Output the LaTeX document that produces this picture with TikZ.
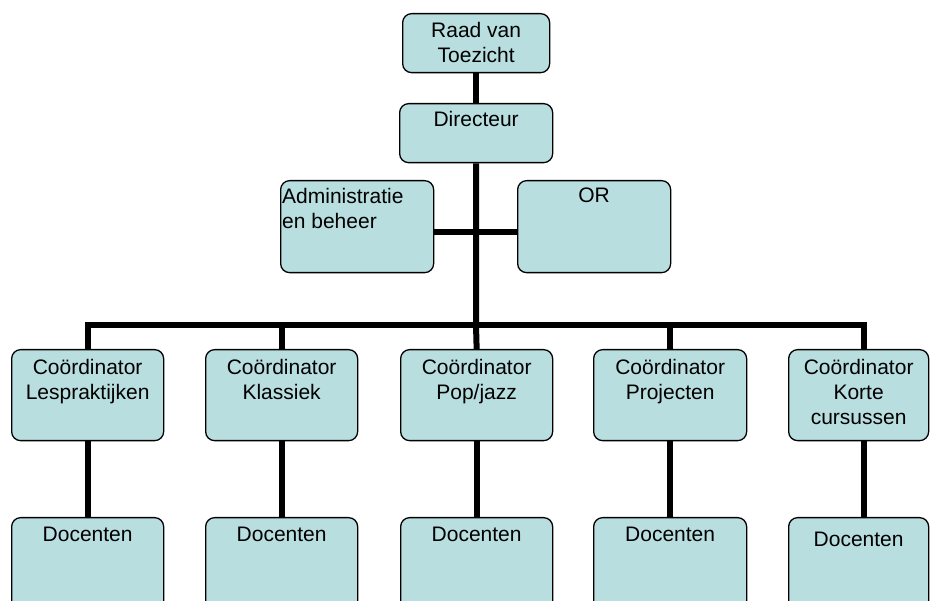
\documentclass[tikz,border=0pt]{standalone}
\usepackage{fontspec}
\setmainfont{Liberation Sans}
\definecolor{boxfill}{RGB}{185,222,224}
\begin{document}
\begin{tikzpicture}[x=1pt,y=-1pt,
  box/.style={draw=black, line width=1.3pt, fill=boxfill, rounded corners=9pt, inner sep=0pt, anchor=north west},
  lbl/.style={inner sep=0pt, font=\fontsize{21}{25}\selectfont, align=center, anchor=north},
  conn/.style={line width=6pt, line join=miter}]
\useasboundingbox (0,0) rectangle (930,601);
\clip (0,0) rectangle (930,601);
% boxes
\node[box, minimum width=147pt, minimum height=59pt] (r) at (402,13) {};
\node[box, minimum width=153pt, minimum height=59pt] (d) at (399,103) {};
\node[box, minimum width=153pt, minimum height=92pt] (a) at (280,180) {};
\node[box, minimum width=153pt, minimum height=92pt] (o) at (517,180) {};
\node[box, minimum width=152pt, minimum height=91pt] (c1) at (11,349) {};
\node[box, minimum width=152pt, minimum height=91pt] (c2) at (205,349) {};
\node[box, minimum width=152pt, minimum height=91pt] (c3) at (400,349) {};
\node[box, minimum width=153pt, minimum height=91pt] (c4) at (593,349) {};
\node[box, minimum width=140pt, minimum height=91pt] (c5) at (788,349) {};
\node[box, minimum width=152pt, minimum height=100pt] (e1) at (11,517) {};
\node[box, minimum width=152pt, minimum height=100pt] (e2) at (205,517) {};
\node[box, minimum width=152pt, minimum height=100pt] (e3) at (400,517) {};
\node[box, minimum width=153pt, minimum height=100pt] (e4) at (593,517) {};
\node[box, minimum width=140pt, minimum height=100pt] (e5) at (788,517) {};
% connectors
\coordinate (b) at (476,325);
\coordinate (k5) at (864,325);
\coordinate (h) at (476,232);
\draw[conn] (r.south) -- (d.north);
\draw[conn] (d.south) -- (b);
\draw[conn] (a.east |- h) -- (o.west |- h);
\draw[conn] (c1.north) -- (c1.north |- b) -- (k5) -- (k5 |- c5.north);
\draw[conn] (c2.north |- b) -- (c2.north);
\draw[conn] (b) -- (c3.north);
\draw[conn] (c4.north |- b) -- (c4.north);
\draw[conn] (c1.south) -- (e1.north);
\draw[conn] (c2.south) -- (e2.north);
\draw[conn] (c3.south) -- (e3.north);
\draw[conn] (c4.south) -- (e4.north);
\draw[conn] (k5 |- c5.south) -- (k5 |- e5.north);
% labels
\node[lbl] (tr) at ([yshift=-9pt]r.north) {Raad van\\Toezicht};
\node[lbl] (td) at ([yshift=-8pt]d.north) {Directeur};
\node[lbl, anchor=north west, align=left] (ta) at (282,188) {Administratie\\en beheer};
\node[lbl] (to) at ([yshift=-8pt]o.north) {OR};
\node[lbl] (t1) at ([yshift=-10pt]c1.north) {Coördinator\\Lespraktijken};
\node[lbl] (t2) at ([yshift=-10pt]c2.north) {Coördinator\\Klassiek};
\node[lbl] (t3) at ([yshift=-10pt]c3.north) {Coördinator\\Pop/jazz};
\node[lbl] (t4) at ([yshift=-10pt]c4.north) {Coördinator\\Projecten};
\node[lbl] (t5) at ([yshift=-10pt]c5.north) {Coördinator\\Korte\\cursussen};
\node[lbl] (u1) at ([yshift=-10pt]e1.north) {Docenten};
\node[lbl] (u2) at ([yshift=-10pt]e2.north) {Docenten};
\node[lbl] (u3) at ([yshift=-10pt]e3.north) {Docenten};
\node[lbl] (u4) at ([yshift=-10pt]e4.north) {Docenten};
\node[lbl] (u5) at ([yshift=-15pt]e5.north) {Docenten};
\end{tikzpicture}
\end{document}
